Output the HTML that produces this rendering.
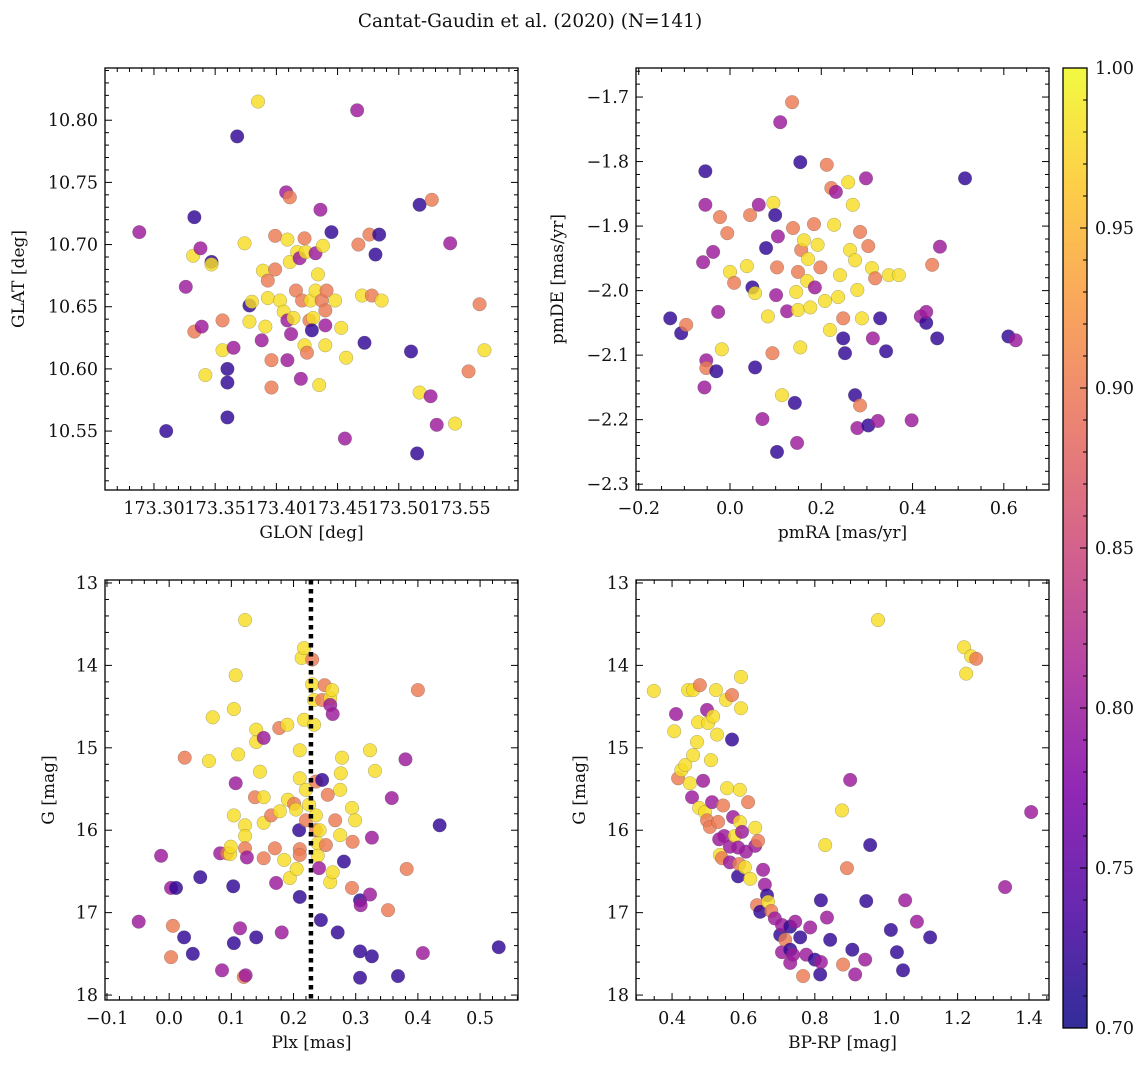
<!DOCTYPE html>
<html><head><meta charset="utf-8">
<style>
body{margin:0;background:#fff;}
svg text{font-family:"DejaVu Serif","Liberation Serif",serif;fill:#111;}
</style></head>
<body>
<svg id="fig" width="1148" height="1067" viewBox="0 0 1148 1067" xmlns="http://www.w3.org/2000/svg">
<defs>
<linearGradient id="plasma" x1="0" y1="1" x2="0" y2="0">
<stop offset="0" stop-color="#0d0887"/><stop offset="0.125" stop-color="#4c02a1"/><stop offset="0.25" stop-color="#7e03a8"/><stop offset="0.375" stop-color="#a92395"/><stop offset="0.5" stop-color="#cc4778"/><stop offset="0.625" stop-color="#e66c5c"/><stop offset="0.75" stop-color="#f89540"/><stop offset="0.875" stop-color="#fdc527"/><stop offset="1" stop-color="#f0f921"/>
</linearGradient>
</defs>
<text x="530" y="27" font-size="18.5" text-anchor="middle">Cantat-Gaudin et al. (2020) (N=141)</text>
</svg>
<script>
// Panel 1: GLON / GLAT
const p1Lon=[173.288,173.310,173.326,173.333,173.332,173.338,173.333,173.339,173.342,173.347,173.347,173.356,173.356,173.360,173.360,173.360,173.365,173.368,173.374,173.378,173.378,173.380,173.385,173.389,173.391,173.388,173.393,173.393,173.396,173.396,173.399,173.399,173.403,173.406,173.408,173.411,173.409,173.411,173.409,173.412,173.409,173.414,173.416,173.417,173.419,173.421,173.423,173.420,173.423,173.424,173.427,173.425,173.428,173.430,173.429,173.432,173.432,173.434,173.435,173.436,173.437,173.438,173.440,173.440,173.441,173.440,173.445,173.448,173.453,173.456,173.457,173.466,173.467,173.470,173.472,173.476,173.478,173.481,173.484,173.486,173.510,173.515,173.517,173.517,173.526,173.527,173.531,173.542,173.546,173.557,173.566,173.570];
const p1Lat=[10.710,10.550,10.666,10.722,10.691,10.697,10.630,10.634,10.595,10.686,10.684,10.615,10.639,10.600,10.589,10.561,10.617,10.787,10.701,10.638,10.651,10.654,10.815,10.679,10.634,10.623,10.657,10.671,10.607,10.585,10.680,10.707,10.655,10.646,10.742,10.738,10.704,10.686,10.639,10.628,10.607,10.641,10.663,10.694,10.689,10.655,10.619,10.592,10.705,10.694,10.639,10.613,10.655,10.641,10.631,10.693,10.663,10.676,10.587,10.728,10.655,10.699,10.635,10.647,10.663,10.619,10.710,10.655,10.633,10.544,10.609,10.808,10.700,10.659,10.621,10.708,10.659,10.692,10.708,10.655,10.614,10.532,10.732,10.581,10.578,10.736,10.555,10.701,10.556,10.598,10.652,10.615];
const p1Prob=[0.8,0.72,0.8,0.72,0.98,0.8,0.9,0.8,0.98,0.72,0.98,0.98,0.9,0.72,0.72,0.72,0.8,0.72,0.98,0.98,0.72,0.98,0.98,0.98,0.98,0.8,0.98,0.9,0.9,0.9,0.9,0.9,0.98,0.98,0.8,0.9,0.98,0.98,0.8,0.8,0.8,0.98,0.9,0.98,0.8,0.9,0.98,0.8,0.9,0.98,0.9,0.9,0.98,0.98,0.72,0.8,0.98,0.98,0.98,0.8,0.9,0.98,0.8,0.9,0.9,0.98,0.72,0.98,0.98,0.8,0.98,0.8,0.9,0.98,0.72,0.9,0.9,0.72,0.72,0.98,0.72,0.72,0.72,0.98,0.8,0.9,0.8,0.8,0.98,0.9,0.9,0.98];
// Panel 2: pmRA / pmDE
const p2Ra=[-0.131,-0.107,-0.096,-0.054,-0.054,-0.059,-0.052,-0.052,-0.056,-0.030,-0.037,-0.026,-0.022,-0.018,-0.006,0.000,0.009,0.037,0.044,0.049,0.055,0.055,0.063,0.071,0.079,0.083,0.093,0.095,0.099,0.103,0.105,0.110,0.101,0.114,0.125,0.136,0.138,0.145,0.149,0.149,0.154,0.142,0.147,0.154,0.156,0.162,0.169,0.171,0.176,0.184,0.186,0.192,0.198,0.208,0.212,0.219,0.222,0.228,0.232,0.237,0.241,0.248,0.248,0.252,0.259,0.263,0.269,0.274,0.279,0.285,0.289,0.298,0.303,0.274,0.279,0.303,0.324,0.311,0.313,0.318,0.329,0.342,0.348,0.370,0.285,0.443,0.460,0.418,0.430,0.430,0.454,0.398,0.515,0.610,0.626,0.103];
const p2De=[-2.043,-2.066,-2.053,-1.815,-1.867,-1.956,-2.108,-2.120,-2.150,-2.125,-1.940,-2.033,-1.886,-2.091,-1.911,-1.971,-1.988,-1.962,-1.883,-1.995,-2.004,-2.119,-1.867,-2.199,-1.934,-2.040,-2.097,-1.864,-1.883,-1.964,-1.916,-1.739,-2.007,-2.162,-2.032,-1.708,-1.903,-2.002,-2.030,-1.971,-2.088,-2.174,-2.236,-1.801,-1.937,-1.922,-1.985,-1.951,-2.026,-1.897,-1.995,-1.929,-1.964,-2.016,-1.805,-2.061,-1.841,-1.898,-1.847,-2.010,-1.976,-2.043,-2.074,-2.097,-1.832,-1.937,-1.867,-1.953,-1.999,-1.909,-2.043,-1.826,-1.931,-2.162,-2.213,-2.209,-2.202,-1.965,-2.074,-1.981,-2.043,-2.094,-1.976,-1.976,-2.178,-1.960,-1.932,-2.040,-2.050,-2.033,-2.074,-2.201,-1.826,-2.071,-2.077,-2.250];
const p2Prob=[0.72,0.72,0.9,0.72,0.8,0.8,0.8,0.9,0.8,0.72,0.8,0.8,0.9,0.98,0.9,0.98,0.9,0.98,0.9,0.72,0.98,0.72,0.8,0.8,0.72,0.98,0.9,0.98,0.72,0.9,0.8,0.8,0.8,0.98,0.8,0.9,0.9,0.98,0.98,0.9,0.98,0.72,0.8,0.72,0.9,0.98,0.98,0.98,0.98,0.9,0.8,0.98,0.9,0.98,0.9,0.98,0.9,0.98,0.8,0.98,0.98,0.9,0.72,0.72,0.98,0.98,0.98,0.98,0.98,0.9,0.98,0.8,0.9,0.72,0.8,0.72,0.8,0.98,0.8,0.9,0.72,0.72,0.98,0.98,0.9,0.9,0.8,0.8,0.72,0.8,0.72,0.8,0.72,0.72,0.8,0.72];
// Panel 3: Plx / G
const p3Plx=[-0.049,-0.013,0.003,0.011,0.006,0.003,0.024,0.038,0.025,0.050,0.064,0.070,0.082,0.085,0.093,0.098,0.099,0.103,0.104,0.107,0.104,0.104,0.107,0.111,0.114,0.122,0.122,0.122,0.122,0.120,0.123,0.125,0.138,0.140,0.140,0.140,0.146,0.152,0.152,0.152,0.152,0.164,0.170,0.172,0.177,0.178,0.181,0.185,0.191,0.190,0.194,0.201,0.204,0.205,0.209,0.210,0.210,0.210,0.210,0.210,0.213,0.217,0.217,0.220,0.220,0.225,0.230,0.230,0.233,0.233,0.236,0.236,0.236,0.239,0.239,0.241,0.242,0.244,0.246,0.246,0.250,0.259,0.259,0.262,0.263,0.255,0.252,0.259,0.263,0.267,0.275,0.275,0.276,0.278,0.281,0.294,0.294,0.295,0.299,0.307,0.308,0.307,0.271,0.307,0.323,0.326,0.323,0.326,0.331,0.352,0.358,0.368,0.382,0.380,0.400,0.408,0.435,0.530];
const p3G=[17.11,16.31,16.70,16.70,17.16,17.54,17.30,17.50,15.12,16.57,15.16,14.63,16.28,17.70,16.28,16.29,16.20,16.68,17.37,15.43,15.82,14.53,14.12,15.08,17.19,13.45,15.94,16.07,16.22,17.78,17.76,16.33,15.60,17.30,14.78,14.93,15.29,14.88,16.34,15.91,15.60,15.82,16.22,16.64,14.76,15.77,17.24,16.36,15.63,14.72,16.58,15.68,15.75,16.47,16.00,15.37,15.03,16.23,16.30,16.81,13.91,13.79,14.66,15.51,15.88,15.69,13.93,14.23,14.42,14.72,15.41,15.82,16.00,16.16,16.31,16.46,16.00,17.09,15.39,14.42,14.24,14.40,14.48,14.30,14.59,15.57,16.18,16.63,16.51,15.88,16.06,15.51,15.31,15.12,16.38,15.73,16.70,16.14,15.88,16.85,16.91,17.47,17.24,17.79,15.03,16.09,16.78,17.53,15.28,16.97,15.61,17.77,16.47,15.14,14.30,17.49,15.94,17.42];
const p3Prob=[0.8,0.8,0.8,0.72,0.9,0.9,0.72,0.72,0.9,0.72,0.98,0.98,0.8,0.8,0.9,0.98,0.98,0.72,0.72,0.8,0.98,0.98,0.98,0.98,0.8,0.98,0.98,0.98,0.9,0.9,0.8,0.8,0.9,0.72,0.98,0.98,0.98,0.8,0.9,0.98,0.98,0.9,0.9,0.8,0.9,0.98,0.8,0.98,0.98,0.98,0.98,0.9,0.98,0.98,0.72,0.98,0.98,0.9,0.9,0.72,0.98,0.98,0.98,0.98,0.9,0.98,0.9,0.98,0.98,0.98,0.9,0.98,0.9,0.98,0.98,0.8,0.98,0.72,0.72,0.9,0.9,0.98,0.8,0.98,0.8,0.9,0.9,0.98,0.98,0.9,0.98,0.98,0.98,0.98,0.72,0.98,0.9,0.9,0.98,0.72,0.8,0.72,0.72,0.72,0.98,0.8,0.8,0.72,0.98,0.9,0.8,0.72,0.9,0.8,0.9,0.8,0.72,0.72];
const p3Line=0.228;
// Panel 4: BP-RP / G
const p4Col=[0.349,0.411,0.406,0.417,0.426,0.437,0.445,0.450,0.456,0.459,0.459,0.470,0.473,0.476,0.478,0.487,0.492,0.498,0.498,0.501,0.506,0.509,0.512,0.515,0.523,0.526,0.529,0.532,0.534,0.540,0.543,0.546,0.551,0.554,0.562,0.562,0.568,0.568,0.571,0.576,0.585,0.585,0.588,0.590,0.590,0.593,0.593,0.596,0.604,0.607,0.613,0.619,0.633,0.633,0.638,0.641,0.647,0.655,0.660,0.666,0.669,0.678,0.688,0.703,0.708,0.708,0.717,0.731,0.731,0.731,0.739,0.745,0.759,0.767,0.776,0.787,0.800,0.815,0.817,0.817,0.829,0.834,0.843,0.879,0.890,0.899,0.905,0.913,0.941,0.944,0.955,0.977,1.013,1.030,1.047,1.053,1.086,1.123,1.406,1.333,1.218,1.224,1.238,1.252,0.876];
const p4G=[14.31,14.59,14.80,15.37,15.27,15.21,14.30,15.43,15.60,14.30,15.09,14.93,14.69,15.73,14.24,15.40,15.78,14.54,15.88,14.70,15.96,15.15,15.66,14.62,14.30,14.84,15.90,16.11,16.30,16.34,15.70,16.07,14.42,15.49,16.20,16.39,14.36,14.90,15.84,16.07,16.21,16.56,16.41,15.51,15.90,14.14,14.52,16.02,16.45,16.26,15.66,16.59,15.97,16.19,16.91,16.13,16.99,16.48,16.66,16.79,16.87,16.98,17.07,17.27,17.15,17.48,17.33,17.17,17.45,17.61,17.51,17.11,17.30,17.77,17.51,17.18,17.57,17.75,17.60,16.85,16.18,17.06,17.33,17.63,16.46,15.39,17.45,17.75,17.57,16.86,16.18,13.45,17.21,17.48,17.70,16.85,17.11,17.30,15.78,16.69,13.78,14.10,13.89,13.92,15.76];
const p4Prob=[0.98,0.8,0.98,0.9,0.98,0.98,0.98,0.98,0.8,0.98,0.98,0.98,0.98,0.98,0.9,0.8,0.98,0.8,0.9,0.98,0.9,0.98,0.8,0.98,0.98,0.98,0.9,0.8,0.98,0.9,0.9,0.8,0.98,0.98,0.8,0.8,0.9,0.72,0.8,0.98,0.8,0.72,0.9,0.98,0.98,0.98,0.98,0.8,0.98,0.8,0.9,0.98,0.98,0.8,0.9,0.9,0.72,0.8,0.8,0.72,0.98,0.9,0.8,0.72,0.8,0.8,0.9,0.72,0.72,0.8,0.8,0.8,0.72,0.9,0.8,0.8,0.72,0.72,0.8,0.72,0.98,0.8,0.72,0.9,0.9,0.8,0.72,0.8,0.8,0.72,0.72,0.98,0.72,0.72,0.72,0.8,0.8,0.72,0.8,0.8,0.98,0.98,0.98,0.9,0.98];
const cbTicks=[0.70,0.75,0.80,0.85,0.90,0.95,1.00];

const NS="http://www.w3.org/2000/svg";
const svg=document.getElementById('fig');
function el(tag,attrs,parent){const e=document.createElementNS(NS,tag);for(const k in attrs)e.setAttribute(k,attrs[k]);(parent||svg).appendChild(e);return e;}
const stops=[[0,[13,8,135]],[0.125,[76,2,161]],[0.25,[126,3,168]],[0.375,[169,35,149]],[0.5,[204,71,120]],[0.625,[230,108,92]],[0.75,[248,149,64]],[0.875,[253,197,39]],[1,[240,249,33]]];
function cmap(v){let t=(v-0.7)/0.3;t=Math.max(0,Math.min(1,t));for(let i=1;i<stops.length;i++){if(t<=stops[i][0]){const a=stops[i-1],b=stops[i];const f=(t-a[0])/(b[0]-a[0]);const c=a[1].map((x,j)=>Math.round(x+(b[1][j]-x)*f));return `rgb(${c})`;}}return 'rgb(240,249,33)';}

function panel(cfg){
  const {L,T,R,B,x0,x1,y0,y1,xs,ys,ps,xMaj,xMin,yMaj,yMin,xDec,yDec,xlab,ylab,name}=cfg;
  const sx=v=>L+(v-x0)/(x1-x0)*(R-L);
  const sy=v=>T+(v-y0)/(y1-y0)*(B-T);
  const g=el('g',{});
  
  
  const pts=el('g',{},g);
  
  
  for(let i=0;i<xs.length;i++){
    const c=el('circle',{cx:sx(xs[i]),cy:sy(ys[i]),r:6.8,fill:cmap(ps[i]),'fill-opacity':0.82,stroke:'#555','stroke-width':0.4,'stroke-opacity':0.6},pts);
    
    
  }
  if(cfg.after) cfg.after(g,sx,sy);
  const fr=el('rect',{x:L,y:T,width:R-L,height:B-T,fill:'none',stroke:'#000','stroke-width':1.3},g);
  
  
  const ax=el('g',{stroke:'#000','stroke-width':1},g);
  const lo=Math.min(x0,x1),hi=Math.max(x0,x1);
  for(let k=Math.ceil(lo/xMin-1e-6);k*xMin<=hi+1e-9;k++){const v=k*xMin;const maj=Math.abs(v/xMaj-Math.round(v/xMaj))<1e-6;const len=maj?7:4;const x=sx(v);
    el('line',{x1:x,x2:x,y1:B,y2:B-len},ax);el('line',{x1:x,x2:x,y1:T,y2:T+len},ax);
    if(maj){const t=el('text',{x:x,y:B+24,'font-size':17.5,'text-anchor':'middle',stroke:'none'},g);t.textContent=v.toFixed(xDec).replace('-','\u2212');}}
  const ylo=Math.min(y0,y1),yhi=Math.max(y0,y1);
  for(let k=Math.ceil(ylo/yMin-1e-6);k*yMin<=yhi+1e-9;k++){const v=k*yMin;const maj=Math.abs(v/yMaj-Math.round(v/yMaj))<1e-6;const len=maj?7:4;const y=sy(v);
    el('line',{x1:L,x2:L+len,y1:y,y2:y},ax);el('line',{x1:R,x2:R-len,y1:y,y2:y},ax);
    if(maj){const t=el('text',{x:L-7,y:y+6,'font-size':17.5,'text-anchor':'end',stroke:'none'},g);t.textContent=v.toFixed(yDec).replace('-','\u2212');}}
  const xl=el('text',{x:(L+R)/2,y:B+48,'font-size':17,'text-anchor':'middle'},g);xl.textContent=xlab;
  
  
  const yl=el('text',{x:0,y:0,'font-size':17,'text-anchor':'middle',transform:`translate(${cfg.ylx},${(T+B)/2}) rotate(-90)`},g);yl.textContent=ylab;
  
  
}
panel({name:'glon-glat-panel',L:105,T:68,R:518,B:490,x0:173.260,x1:173.5974,y0:10.842,y1:10.5026,xs:p1Lon,ys:p1Lat,ps:p1Prob,xMaj:0.05,xMin:0.01,yMaj:0.05,yMin:0.01,xDec:2,yDec:2,xlab:'GLON [deg]',ylab:'GLAT [deg]',ylx:24});
panel({name:'pm-panel',L:636,T:68,R:1049,B:490,x0:-0.206,x1:0.699,y0:-1.655,y1:-2.309,xs:p2Ra,ys:p2De,ps:p2Prob,xMaj:0.2,xMin:0.05,yMaj:0.1,yMin:0.02,xDec:1,yDec:1,xlab:'pmRA [mas/yr]',ylab:'pmDE [mas/yr]',ylx:563});
panel({name:'plx-g-panel',L:105,T:580,R:518,B:1000,x0:-0.1032,x1:0.561,y0:12.964,y1:18.06,xs:p3Plx,ys:p3G,ps:p3Prob,xMaj:0.1,xMin:0.02,yMaj:1,yMin:0.2,xDec:1,yDec:0,xlab:'Plx [mas]',ylab:'G [mag]',ylx:54,
  after:(g,sx,sy)=>{const l=el('line',{x1:sx(p3Line),x2:sx(p3Line),y1:580,y2:1000,stroke:'#000','stroke-width':4.5,'stroke-dasharray':'4.5 4.5'},g);}});
panel({name:'cmd-panel',L:636,T:580,R:1049,B:1000,x0:0.299,x1:1.456,y0:12.964,y1:18.06,xs:p4Col,ys:p4G,ps:p4Prob,xMaj:0.2,xMin:0.05,yMaj:1,yMin:0.2,xDec:1,yDec:0,xlab:'BP-RP [mag]',ylab:'G [mag]',ylx:585});

// colorbar
const cb=el('g',{});


const CL=1063,CR=1087,CT=68,CB=1028;
el('rect',{x:CL,y:CT,width:CR-CL,height:CB-CT,fill:'url(#plasma)','fill-opacity':0.85},cb);
el('rect',{x:CL,y:CT,width:CR-CL,height:CB-CT,fill:'none',stroke:'#000','stroke-width':1.3},cb);
const cy=v=>CB-(v-0.7)/0.3*(CB-CT);
for(let k=70;k<=100;k++){const y=cy(k/100);const maj=k%5===0;el('line',{x1:CR,x2:CR-(maj?7:4),y1:y,y2:y,stroke:'#000'},cb);}
cbTicks.forEach(v=>{const t=el('text',{x:CR+8,y:cy(v)+6,'font-size':17.5},cb);t.textContent=v.toFixed(2);});
</script>
</body></html>
